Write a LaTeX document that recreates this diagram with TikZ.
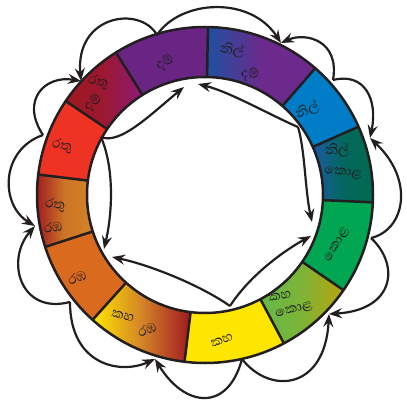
\documentclass[tikz,border=0pt]{standalone}
\usepackage{fontspec}
\newfontfamily\sinhfont[Script=Sinhala]{Abhaya Libre}
\usetikzlibrary{arrows.meta,calc}
\definecolor{cDam}{RGB}{106,36,131}
\definecolor{cNil}{RGB}{0,125,198}
\definecolor{cKola}{RGB}{0,166,81}
\definecolor{cKaha}{RGB}{255,230,0}
\definecolor{cRath}{RGB}{218,106,30}
\definecolor{cRathu}{RGB}{238,50,36}
\definecolor{cBlueD}{RGB}{30,80,160}
\definecolor{cPurp}{RGB}{108,42,140}
\definecolor{cGreenD}{RGB}{0,106,80}
\definecolor{cBlueG}{RGB}{25,90,165}
\definecolor{cLGreen}{RGB}{100,186,72}
\definecolor{cOlive}{RGB}{184,164,12}
\definecolor{cDRed}{RGB}{160,24,32}
\definecolor{cOrg}{RGB}{212,132,40}
\definecolor{cMag}{RGB}{140,26,120}
\definecolor{ink}{RGB}{35,31,32}
\newcommand\ringpath[2]{($(C)+(-#1:168)$) arc[start angle=-#1, end angle=-#2, radius=168] -- ($(C)+(-#2:118)$) arc[start angle=-#2, end angle=-#1, radius=118] -- cycle}
\begin{document}
\begin{tikzpicture}[x=1pt,y=-1pt,line join=round,
  ringline/.style={draw=ink,line width=2.5pt},
  arr/.style={draw=ink,line width=2.2pt,-{Stealth[length=13pt,width=10pt,inset=4.5pt]}},
  lbl/.style={font=\sinhfont\fontsize{17}{17}\selectfont,text=ink,inner sep=0pt}]
\useasboundingbox (0,0) rectangle (407,404);
\coordinate (C) at (205,195);
% segments
\fill[cDam] \ringpath{89}{122};
\shade[left color=cBlueD, right color=cPurp, middle color=cPurp] \ringpath{49}{89};
\fill[cNil] \ringpath{24}{49};
\shade[left color=cBlueG, right color=cGreenD, middle color=cGreenD!85!cBlueG] \ringpath{-2.5}{24};
\fill[cKola] \ringpath{-34.5}{-2.5};
\shade[left color=cLGreen, right color=cOlive, middle color=cLGreen!70!cOlive] \ringpath{-62}{-34.5};
\fill[cKaha] \ringpath{-97}{-62};
\shade[left color=cKaha, right color=cDRed, middle color=cOrg] \ringpath{-132}{-97};
\fill[cRath] \ringpath{-162}{-132};
\shade[left color=cDRed, right color=cOrg, middle color=cOrg!85!cDRed] \ringpath{-187}{-162};
\fill[cRathu] \ringpath{-214}{-187};
\shade[left color=cDRed, right color=cMag, middle color=cDRed!80!cMag] \ringpath{-238}{-214};
% outlines
\draw[ringline] (C) circle[radius=168];
\draw[ringline] (C) circle[radius=118];
\foreach \a in {89,49,24,-2.5,-34.5,-62,-97,-132,-162,-187,-214,-238}
  \draw[ringline] ($(C)+(-\a:118)$) -- ($(C)+(-\a:168)$);
% labels
\node[lbl,rotate=25] (tDam) at (165,63) {දම්};
\node[lbl,rotate=-8] (tNd1) at (232,50) {නිල්};
\node[lbl,rotate=-8] (tNd2) at (250,75) {දම්};
\node[lbl,rotate=20] (tNil) at (307,110) {නිල්};
\node[lbl] (tNk1) at (337,150) {නිල්};
\node[lbl,rotate=-5] (tNk2) at (343,173) {කොළ};
\node[lbl,rotate=60] (tKola) at (337,245) {කොළ};
\node[lbl,rotate=10] (tKk1) at (280,296) {කහ};
\node[lbl,rotate=15] (tKk2) at (294,310) {කොළ};
\node[lbl,rotate=20] (tKaha) at (222,340) {කහ};
\node[lbl,rotate=-15] (tKr1) at (123,316) {කහ};
\node[lbl,rotate=20] (tKr2) at (147,330) {රඹ};
\node[lbl,rotate=20] (tRath) at (77,278) {රඹ};
\node[lbl,rotate=-5] (tRr1) at (55,205) {රතු};
\node[lbl,rotate=10] (tRr2) at (53,227) {රඹ};
\node[lbl,rotate=-8] (tRathu) at (62,146) {රතු};
\node[lbl,rotate=-10] (tRd1) at (98,82) {රතු};
\node[lbl,rotate=30] (tRd2) at (93,103) {දම්};
% outer sources and tips
\coordinate (Pd) at (157,35);
\coordinate (Pn) at (333,80);
\coordinate (Pk) at (371,238);
\coordinate (Py) at (242,359);
\coordinate (Po) at (70,302);
\coordinate (Pr) at (43,135);
\coordinate (Trd) at (81,81);
\coordinate (Tnd) at (281,43);
\coordinate (Tnk) at (370,138);
\coordinate (Tkk) at (329,314);
\coordinate (Tyr) at (155,359);
\coordinate (Trr) at (35,226);
% inner sources and tips
\coordinate (Qr) at (101,137);
\coordinate (Qb) at (298,127);
\coordinate (Qy) at (230,306);
\coordinate (Td1) at (184,87);
\coordinate (Td2) at (198,84);
\coordinate (Tk1) at (312,222);
\coordinate (Tk2) at (311,236);
\coordinate (To1) at (104,249);
\coordinate (To2) at (112,257);
% outer arrows
\draw[arr] (Pd) .. controls (140,5) and (75,15) .. (Trd);
\draw[arr] (Pd) .. controls (180,0) and (250,-5) .. (Tnd);
\draw[arr] (Pn) .. controls (340,40) and (305,32) .. (Tnd);
\draw[arr] (Pn) .. controls (365,72) and (378,100) .. (Tnk);
\draw[arr] (Pk) .. controls (405,230) and (415,180) .. (Tnk);
\draw[arr] (Pk) .. controls (400,265) and (395,310) .. (Tkk);
\draw[arr] (Py) .. controls (270,395) and (325,390) .. (Tkk);
\draw[arr] (Py) .. controls (228,412) and (185,408) .. (Tyr);
\draw[arr] (Po) .. controls (70,365) and (120,375) .. (Tyr);
\draw[arr] (Po) .. controls (20,315) and (5,260) .. (Trr);
\draw[arr] (Pr) .. controls (0,150) and (0,205) .. (Trr);
\draw[arr] (Pr) .. controls (20,100) and (45,75) .. (Trd);
% inner arrows
\draw[arr] (Qr) .. controls (120,145) and (150,115) .. (Td1);
\draw[arr] (Qr) .. controls (115,170) and (112,215) .. (To1);
\draw[arr] (Qb) .. controls (270,115) and (230,92) .. (Td2);
\draw[arr] (Qb) .. controls (305,150) and (305,190) .. (Tk1);
\draw[arr] (Qy) .. controls (250,275) and (285,250) .. (Tk2);
\draw[arr] (Qy) .. controls (200,285) and (150,265) .. (To2);
\end{tikzpicture}
\end{document}
